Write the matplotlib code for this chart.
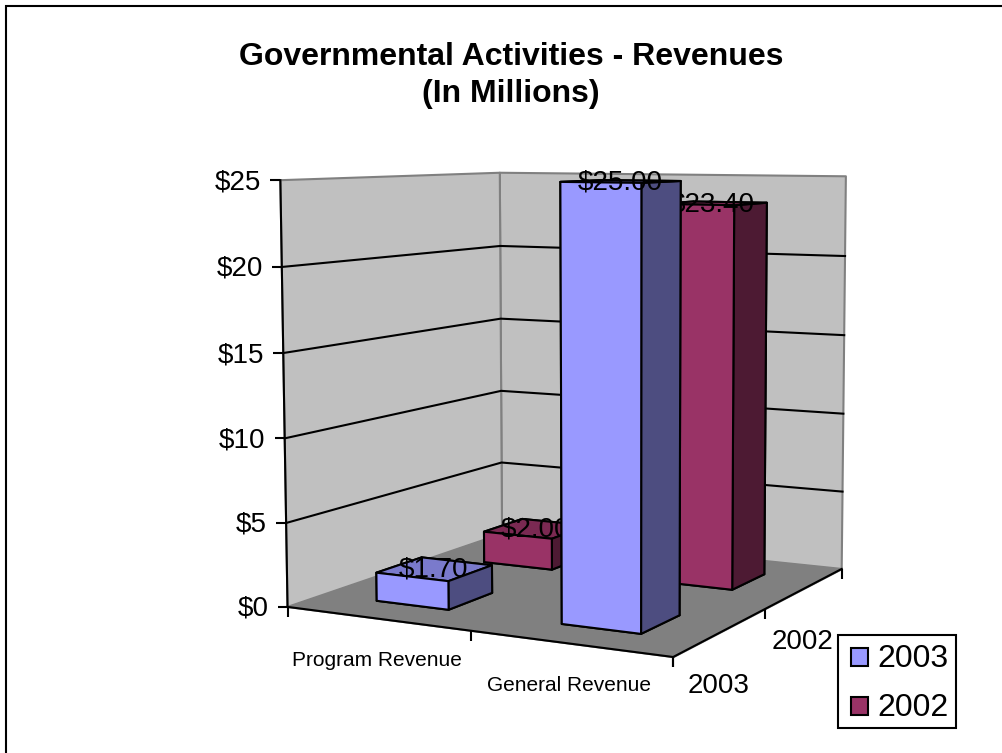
import numpy as np
import matplotlib
matplotlib.use("Agg")
import matplotlib.pyplot as plt
from matplotlib.legend_handler import HandlerPatch
from matplotlib.lines import Line2D, TICKLEFT, TICKDOWN
from matplotlib.patches import Patch, Rectangle
from mpl_toolkits.mplot3d import proj3d
from mpl_toolkits.mplot3d.art3d import Poly3DCollection

plt.rcParams["font.family"] = ["Liberation Sans", "DejaVu Sans"]

# Chart data
categories = ["Program Revenue", "General Revenue"]
series_names = ["2003", "2002"]
values_2003 = [1.70, 25.00]
values_2002 = [2.00, 23.40]
value_ticks = [0, 5, 10, 15, 20, 25]
value_tick_labels = ["$0", "$5", "$10", "$15", "$20", "$25"]
grid_values = [5, 10, 15, 20]

WIDTH, HEIGHT = 1003, 753
BAR_START, BAR_SIZE = 0.3, 0.4
Z_TOP = 25

# Camera calibration: box coordinates (category, series, value) and where they land in pixels
calib_box = np.array([
    (0, 0, 0), (2, 0, 0), (0, 2, 0), (2, 2, 0), (0, 0, 25), (0, 2, 25), (2, 2, 25),
    (1, 0, 0), (2, 1, 0), (0, 0, 20), (0, 2, 20),
    (1.3, .3, 25), (1.7, .3, 25), (1.7, .7, 25), (1.7, .3, 0), (1.7, .7, 0),
    (.3, .3, 0), (.7, .3, 0), (.7, .7, 0), (1.7, 1.7, 0), (1.7, 1.3, 0), (1.3, 1.3, 0),
    (.3, 1.3, 0), (.7, 1.3, 0),
], dtype=float)
calib_px = np.array([
    (288, 606), (672, 657), (500, 533), (838, 569), (280.5, 179), (500, 174), (846, 175),
    (470, 633), (764, 609), (282, 268), (500, 246),
    (560, 182), (642, 182), (680, 182), (640, 633), (678, 616),
    (376, 599), (448, 609), (492, 594), (763, 573), (730, 590), (678, 583),
    (483, 562), (549, 570),
], dtype=float)


def fit_camera(box, px):
    """Least-squares 3x4 projective camera, returned as a 4x4 matrix for mplot3d."""
    rows, rhs = [], []
    for (x, y, z), (u, v) in zip(box, px):
        v = HEIGHT - v
        rows.append([x, y, z, 1, 0, 0, 0, 0, -u * x, -u * y, -u * z])
        rhs.append(u)
        rows.append([0, 0, 0, 0, x, y, z, 1, -v * x, -v * y, -v * z])
        rhs.append(v)
    p = np.linalg.lstsq(np.array(rows), np.array(rhs), rcond=None)[0]
    # The third row only has to grow with distance from the viewer, for depth sorting
    return np.array([p[:4], p[4:8], [0, 0, 0, -1.0], [p[8], p[9], p[10], 1.0]])


camera = fit_camera(calib_box, calib_px)

fig = plt.figure(figsize=(WIDTH / 100, HEIGHT / 100), dpi=100, facecolor="white")
ax = fig.add_axes([0, 0, 1, 1], projection="3d", computed_zorder=False)
ax.set_axis_off()
ax.patch.set_visible(False)
ax.set_proj_type("ortho")  # skips mplot3d's unit-cube point clipping; the camera is our own
ax.get_proj = lambda: camera
ax.apply_aspect = lambda position=None: None
ax.viewLim.intervalx = (0, WIDTH)
ax.viewLim.intervaly = (0, HEIGHT)


def label3d(x, y, z, text, dx=0, dy=0, **kwargs):
    """Flat text anchored at a box coordinate, shifted by dx, dy pixels."""
    u, v, _ = proj3d.proj_transform(x, y, z, camera)
    kwargs.setdefault("ha", "center")
    kwargs.setdefault("va", "center")
    return ax.text2D(u + dx, v + dy, text, transform=ax.transData, **kwargs)


# Walls and floor
n_cat, n_ser = len(categories), len(series_names)
walls = [
    [(0, 0, 0), (0, n_ser, 0), (0, n_ser, Z_TOP), (0, 0, Z_TOP)],
    [(0, n_ser, 0), (n_cat, n_ser, 0), (n_cat, n_ser, Z_TOP), (0, n_ser, Z_TOP)],
]
floor = [[(0, 0, 0), (n_cat, 0, 0), (n_cat, n_ser, 0), (0, n_ser, 0)]]
ax.add_collection3d(Poly3DCollection(walls, facecolors="#C0C0C0", edgecolors="#808080",
                                     linewidths=1.5, zorder=1))
ax.add_collection3d(Poly3DCollection(floor, facecolors="#808080", edgecolors="#808080",
                                     linewidths=1.0, zorder=2))

# Gridlines across both walls
for v in grid_values:
    ax.plot([0, 0, n_cat], [0, n_ser, n_ser], [v, v, v], color="black", lw=1.5, zorder=3)

# Axis lines and tick marks
ax.plot([0, 0], [0, 0], [0, Z_TOP], color="black", lw=1.5, zorder=3)
ax.plot([0, n_cat, n_cat], [0, 0, n_ser], [0, 0, 0], color="black", lw=1.5, zorder=3)
ax.plot([0] * len(value_ticks), [0] * len(value_ticks), value_ticks, ls="", marker=TICKLEFT,
        ms=7, mew=1.5, color="black", zorder=3)
ax.plot(list(range(n_cat + 1)), [0] * (n_cat + 1), [0] * (n_cat + 1), ls="", marker=TICKDOWN,
        ms=7, mew=1.5, color="black", zorder=3)
ax.plot([n_cat] * (n_ser + 1), list(range(n_ser + 1)), [0] * (n_ser + 1), ls="", marker=TICKDOWN,
        ms=7, mew=1.5, color="black", zorder=3)

# Axis labels
for v, lab in zip(value_ticks, value_tick_labels):
    label3d(0, 0, v, lab, dx=-19, dy=-2, ha="right", fontsize=20, zorder=4)
for i, lab in enumerate(categories):
    label3d(i + 0.5, 0, 0, lab, dy=-42, fontsize=15, zorder=4)
for j, lab in enumerate(series_names):
    label3d(n_cat, j + 0.5, 0, lab, dx=-3, dy=-54, fontsize=20, zorder=4)

# Bars: back row first, each followed by its label
face_colors = {
    "2003": ["#7A7ACC", "#7A7ACC", "#9999FF", "#9999FF", "#4D4D80", "#4D4D80"],
    "2002": ["#7A2952", "#7A2952", "#993366", "#993366", "#4D1A33", "#4D1A33"],
}
series_values = [values_2003, values_2002]
z_order = 10
for j in reversed(range(n_ser)):
    for i in range(n_cat):
        val = series_values[j][i]
        # bar3d faces run bottom, top, -y, +y, -x, +x
        col = ax.bar3d(i + BAR_START, j + BAR_START, 0, BAR_SIZE, BAR_SIZE, val,
                       color=face_colors[series_names[j]], shade=False,
                       edgecolor="black", linewidth=1.5)
        col.set_zorder(z_order)
        label3d(i + 0.5, j + 0.5, val, f"${val:.2f}", dx=-1, dy=-1, fontsize=20,
                zorder=z_order + 0.5)
        z_order += 1

# Title
fig.text(0.5095, 0.9245, "Governmental Activities - Revenues", ha="center", va="center",
         fontsize=23, fontweight="bold")
fig.text(0.5095, 0.875, "(In Millions)", ha="center", va="center",
         fontsize=23, fontweight="bold")


# Legend
def legend_swatch(legend, orig_handle, xdescent, ydescent, width, height, fontsize):
    return Rectangle((width - 12 - xdescent, height / 2 - 8.8 - ydescent), 12, 13)


handles = [Patch(facecolor=face_colors[s][2], edgecolor="black", linewidth=1.5) for s in series_names]
leg = fig.legend(handles, series_names, loc="lower left",
                 bbox_to_anchor=(838 / WIDTH, 1 - 728 / HEIGHT), bbox_transform=fig.transFigure,
                 fontsize=23, fancybox=False, framealpha=1, edgecolor="black",
                 handlelength=0.72, handleheight=0.55, handletextpad=0.3,
                 labelspacing=0.6, borderpad=0.22, borderaxespad=0,
                 handler_map={Patch: HandlerPatch(patch_func=legend_swatch)})
leg.get_frame().set_linewidth(1.5)
for legend_text in leg.get_texts():
    legend_text.set_position((0, -2))

# Outer frame: top and left rules
frame_x = 6 / WIDTH
frame_y = 1 - 6 / HEIGHT
fig.add_artist(Line2D([frame_x, frame_x, 1], [0, frame_y, frame_y], color="black", linewidth=1.5,
                      solid_joinstyle="miter", transform=fig.transFigure))

fig.savefig("out.png", dpi=100)
